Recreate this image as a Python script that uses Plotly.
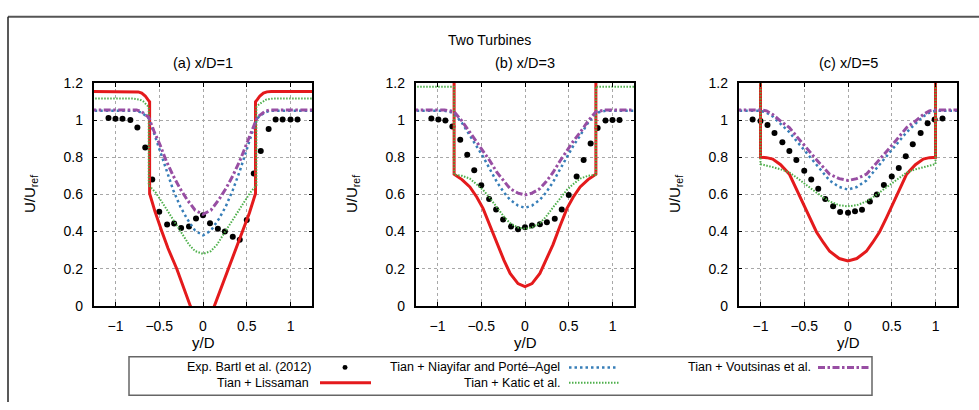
import plotly.graph_objects as go

# ---------------- data ----------------
# Panel (a) x/D=1
exp_a_x = [-1.08, -1.0, -0.92, -0.83, -0.75, -0.66, -0.58, -0.50, -0.41, -0.33, -0.25, -0.16, -0.08, 0.0,
           0.08, 0.17, 0.25, 0.34, 0.42, 0.50, 0.58, 0.66, 0.75, 0.83, 0.91, 1.0, 1.08]
exp_a_y = [1.012, 1.007, 1.007, 1.0, 0.96, 0.853, 0.68, 0.507, 0.438, 0.443, 0.42, 0.427, 0.47, 0.488,
           0.445, 0.415, 0.40, 0.372, 0.356, 0.462, 0.713, 0.834, 0.952, 1.003, 1.003, 1.003, 1.003]
lis_a_x = [-1.3, -0.80, -0.74, -0.70, -0.66, -0.63, -0.61, -0.61, -0.55, -0.47, -0.40, -0.30, -0.145, -0.05, 0.0,
           0.05, 0.13, 0.29, 0.45, 0.53, 0.60, 0.60, 0.62, 0.65, 0.69, 0.73, 0.78, 1.3]
lis_a_y = [1.154, 1.154, 1.152, 1.145, 1.13, 1.11, 1.099, 0.605, 0.51, 0.40, 0.31, 0.20, 0.0, -0.10, -0.13,
           -0.10, 0.0, 0.20, 0.40, 0.50, 0.605, 1.099, 1.11, 1.13, 1.145, 1.152, 1.154, 1.154]
kat_a_x = [-1.3, -0.80, -0.72, -0.68, -0.65, -0.62, -0.62, -0.54, -0.47, -0.39, -0.31, -0.24, -0.16, -0.09, 0.0,
           0.09, 0.16, 0.24, 0.31, 0.39, 0.47, 0.54, 0.61, 0.61, 0.64, 0.68, 0.72, 0.80, 1.3]
kat_a_y = [1.116, 1.116, 1.11, 1.10, 1.085, 1.07, 0.649, 0.61, 0.56, 0.50, 0.44, 0.39, 0.33, 0.295, 0.28,
           0.295, 0.33, 0.39, 0.44, 0.50, 0.56, 0.61, 0.649, 1.07, 1.085, 1.10, 1.11, 1.116, 1.116]
nia_a_x = [-1.3, -0.76, -0.70, -0.62, -0.56, -0.49, -0.42, -0.34, -0.26, -0.18, -0.09, 0.0,
           0.09, 0.18, 0.26, 0.34, 0.42, 0.49, 0.56, 0.62, 0.70, 0.76, 1.3]
nia_a_y = [1.05, 1.05, 1.04, 1.01, 0.93, 0.83, 0.725, 0.623, 0.535, 0.467, 0.405, 0.38,
           0.405, 0.467, 0.535, 0.623, 0.725, 0.83, 0.93, 1.01, 1.04, 1.05, 1.05]
vou_a_x = [-1.3, -0.76, -0.70, -0.62, -0.56, -0.49, -0.42, -0.34, -0.26, -0.18, -0.09, 0.0,
           0.09, 0.18, 0.26, 0.34, 0.42, 0.49, 0.56, 0.62, 0.70, 0.76, 1.3]
vou_a_y = [1.055, 1.055, 1.045, 1.015, 0.94, 0.865, 0.78, 0.70, 0.63, 0.571, 0.515, 0.493,
           0.515, 0.571, 0.63, 0.70, 0.78, 0.865, 0.94, 1.015, 1.045, 1.055, 1.055]

# Panel (b) x/D=3
exp_b_x = [-1.07, -0.99, -0.91, -0.83, -0.74, -0.66, -0.58, -0.50, -0.41, -0.33, -0.25, -0.16, -0.08, 0.0,
           0.08, 0.17, 0.25, 0.34, 0.42, 0.50, 0.59, 0.67, 0.75, 0.83, 0.92, 1.0, 1.08]
exp_b_y = [1.009, 1.003, 0.998, 0.965, 0.894, 0.813, 0.73, 0.649, 0.576, 0.519, 0.465, 0.427, 0.413, 0.424,
           0.433, 0.439, 0.45, 0.469, 0.519, 0.597, 0.697, 0.785, 0.874, 0.958, 0.998, 1.0, 1.0]
lis_b_x = [-1.3, -0.81, -0.81, -0.72, -0.63, -0.55, -0.48, -0.40, -0.32, -0.24, -0.17, -0.08, 0.0,
           0.08, 0.17, 0.24, 0.32, 0.40, 0.48, 0.55, 0.63, 0.72, 0.81, 0.81, 1.3]
lis_b_y = [1.35, 1.35, 0.709, 0.68, 0.64, 0.585, 0.525, 0.43, 0.33, 0.245, 0.175, 0.12, 0.104,
           0.12, 0.175, 0.245, 0.33, 0.43, 0.525, 0.585, 0.64, 0.68, 0.709, 1.35, 1.35]
kat_b_x = [-1.3, -0.81, -0.81, -0.72, -0.63, -0.55, -0.48, -0.40, -0.32, -0.24, -0.17, -0.08, 0.0,
           0.08, 0.17, 0.24, 0.32, 0.40, 0.48, 0.55, 0.63, 0.72, 0.81, 0.81, 1.3]
kat_b_y = [1.18, 1.18, 0.706, 0.70, 0.685, 0.655, 0.625, 0.58, 0.53, 0.48, 0.445, 0.422, 0.415,
           0.422, 0.445, 0.48, 0.53, 0.58, 0.625, 0.655, 0.685, 0.70, 0.706, 1.18, 1.18]
nia_b_x = [-1.3, -0.92, -0.86, -0.81, -0.72, -0.63, -0.55, -0.48, -0.40, -0.32, -0.24, -0.17, -0.08, 0.0,
           0.08, 0.17, 0.24, 0.32, 0.40, 0.48, 0.55, 0.63, 0.72, 0.81, 0.86, 0.92, 1.3]
nia_b_y = [1.05, 1.05, 1.045, 1.035, 0.985, 0.917, 0.86, 0.804, 0.735, 0.666, 0.61, 0.571, 0.54, 0.528,
           0.54, 0.571, 0.61, 0.666, 0.735, 0.804, 0.86, 0.917, 0.985, 1.035, 1.045, 1.05, 1.05]
vou_b_x = [-1.3, -0.92, -0.86, -0.81, -0.72, -0.63, -0.55, -0.48, -0.40, -0.32, -0.24, -0.17, -0.08, 0.0,
           0.08, 0.17, 0.24, 0.32, 0.40, 0.48, 0.55, 0.63, 0.72, 0.81, 0.86, 0.92, 1.3]
vou_b_y = [1.055, 1.055, 1.05, 1.045, 0.995, 0.934, 0.885, 0.839, 0.78, 0.718, 0.668, 0.631, 0.607, 0.597,
           0.607, 0.631, 0.668, 0.718, 0.78, 0.839, 0.885, 0.934, 0.995, 1.045, 1.05, 1.055, 1.055]

# Panel (c) x/D=5
exp_c_x = [-1.09, -1.0, -0.92, -0.84, -0.75, -0.67, -0.59, -0.50, -0.42, -0.34, -0.26, -0.17, -0.09, 0.0,
           0.08, 0.16, 0.25, 0.33, 0.41, 0.50, 0.58, 0.66, 0.74, 0.83, 0.91, 0.99, 1.08]
exp_c_y = [1.003, 0.995, 0.974, 0.931, 0.881, 0.834, 0.785, 0.727, 0.68, 0.631, 0.576, 0.536, 0.505, 0.502,
           0.509, 0.517, 0.562, 0.599, 0.651, 0.696, 0.742, 0.806, 0.87, 0.931, 0.983, 1.003, 1.009]
lis_c_x = [-1.3, -1.0, -1.0, -0.93, -0.86, -0.77, -0.67, -0.60, -0.52, -0.44, -0.36, -0.28, -0.21, -0.10, 0.0,
           0.10, 0.21, 0.28, 0.36, 0.44, 0.52, 0.60, 0.67, 0.77, 0.86, 0.93, 1.0, 1.0, 1.3]
lis_c_y = [1.35, 1.35, 0.80, 0.798, 0.79, 0.76, 0.709, 0.64, 0.554, 0.475, 0.398, 0.34, 0.294, 0.255, 0.242,
           0.255, 0.294, 0.34, 0.398, 0.475, 0.554, 0.64, 0.709, 0.76, 0.79, 0.798, 0.80, 1.35, 1.35]
kat_c_x = [-1.3, -1.0, -1.0, -0.93, -0.86, -0.77, -0.67, -0.60, -0.52, -0.44, -0.36, -0.28, -0.21, -0.10, 0.0,
           0.10, 0.21, 0.28, 0.36, 0.44, 0.52, 0.60, 0.67, 0.77, 0.86, 0.93, 1.0, 1.0, 1.3]
kat_c_y = [1.3, 1.3, 0.763, 0.757, 0.747, 0.735, 0.718, 0.695, 0.665, 0.638, 0.61, 0.583, 0.562, 0.542, 0.536,
           0.542, 0.562, 0.583, 0.61, 0.638, 0.665, 0.695, 0.718, 0.735, 0.747, 0.757, 0.763, 1.3, 1.3]
nia_c_x = [-1.3, -1.0, -0.93, -0.86, -0.77, -0.67, -0.60, -0.52, -0.44, -0.36, -0.28, -0.21, -0.10, 0.0,
           0.10, 0.21, 0.28, 0.36, 0.44, 0.52, 0.60, 0.67, 0.77, 0.86, 0.93, 1.0, 1.3]
nia_c_y = [1.05, 1.05, 1.04, 1.02, 0.98, 0.935, 0.895, 0.851, 0.806, 0.761, 0.715, 0.675, 0.64, 0.626,
           0.64, 0.675, 0.715, 0.761, 0.806, 0.851, 0.895, 0.935, 0.98, 1.02, 1.04, 1.05, 1.05]
vou_c_x = [-1.3, -1.0, -0.93, -0.86, -0.77, -0.67, -0.60, -0.52, -0.44, -0.36, -0.28, -0.21, -0.10, 0.0,
           0.10, 0.21, 0.28, 0.36, 0.44, 0.52, 0.60, 0.67, 0.77, 0.86, 0.93, 1.0, 1.3]
vou_c_y = [1.055, 1.055, 1.05, 1.03, 0.995, 0.96, 0.92, 0.874, 0.83, 0.787, 0.745, 0.709, 0.685, 0.675,
           0.685, 0.709, 0.745, 0.787, 0.83, 0.874, 0.92, 0.96, 0.995, 1.03, 1.05, 1.055, 1.055]

panel_titles = ["(a) x/D=1", "(b) x/D=3", "(c) x/D=5"]
series_names = ["Exp. Bartl et al. (2012)", "Tian + Lissaman", "Tian + Niayifar and Porté\u2013Agel",
                "Tian + Katic et al.", "Tian + Voutsinas et al."]
x_ticks = [-1, -0.5, 0, 0.5, 1]
y_ticks = [0, 0.2, 0.4, 0.6, 0.8, 1.0, 1.2]
main_title = "Two Turbines"

# ---------------- styling ----------------
W, H = 979, 410
FONT = "Liberation Sans, Arial, Helvetica, sans-serif"
RED, BLUE, GREEN, PURPLE = "#e41a1c", "#377eb8", "#4daf4a", "#984ea3"
styles = [
    dict(color=RED, width=3, dash="solid"),
    dict(color=BLUE, width=2.5, dash="2.5px,3px"),
    dict(color=GREEN, width=2, dash="1.5px,1.5px"),
    dict(color=PURPLE, width=3, dash="7px,2.5px,2.5px,2.5px"),
]


def px(v):
    return v / W


def py(v):
    return 1 - v / H


panel_left = [93.6, 415.6, 738.6]
panel_w = 218.8
plot_top, plot_bot = 78, 310

panels = [
    (exp_a_x, exp_a_y, [(lis_a_x, lis_a_y), (nia_a_x, nia_a_y), (kat_a_x, kat_a_y), (vou_a_x, vou_a_y)]),
    (exp_b_x, exp_b_y, [(lis_b_x, lis_b_y), (nia_b_x, nia_b_y), (kat_b_x, kat_b_y), (vou_b_x, vou_b_y)]),
    (exp_c_x, exp_c_y, [(lis_c_x, lis_c_y), (nia_c_x, nia_c_y), (kat_c_x, kat_c_y), (vou_c_x, vou_c_y)]),
]


def text_ann(text, x, y, size, xanchor="center", angle=0, pad=1):
    return dict(text=text, x=px(x), y=py(y), xref="paper", yref="paper", xanchor=xanchor,
                yanchor="middle", textangle=angle, showarrow=False, borderpad=pad,
                font=dict(family=FONT, size=size, color="black"))


fig = go.Figure()
annotations = []
layout_axes = {}
for i, (ex, ey, lines) in enumerate(panels):
    sfx = "" if i == 0 else str(i + 1)
    xa, ya = "x" + sfx, "y" + sfx
    fig.add_trace(go.Scatter(x=ex, y=ey, mode="markers", xaxis=xa, yaxis=ya,
                             marker=dict(color="black", size=6), name=series_names[0], showlegend=False))
    for (lx, ly), st, nm in zip(lines, styles, series_names[1:]):
        fig.add_trace(go.Scatter(x=lx, y=ly, mode="lines", xaxis=xa, yaxis=ya, line=st,
                                 name=nm, showlegend=False))
    axcommon = dict(showgrid=True, gridcolor="#a8a8a8", griddash="dot", gridwidth=1,
                    showline=True, linecolor="black", linewidth=1.5, mirror="ticks",
                    ticks="inside", ticklen=4, tickcolor="black", zeroline=False,
                    tickfont=dict(family=FONT, size=14, color="black"))
    layout_axes["xaxis" + sfx] = dict(axcommon, domain=[px(panel_left[i]), px(panel_left[i] + panel_w)],
                                      range=[-1.25, 1.25], tickvals=x_ticks, anchor=ya,
                                      ticklabelstandoff=7)
    layout_axes["yaxis" + sfx] = dict(axcommon, domain=[py(plot_bot), py(plot_top)],
                                      range=[0, 1.2], tickvals=y_ticks, anchor=xa,
                                      ticklabelstandoff=6)
    cx = panel_left[i] + panel_w / 2
    annotations.append(text_ann(panel_titles[i], cx, 57, 14.5))
    annotations.append(text_ann("y/D", cx, 348, 15))
    annotations.append(text_ann("U/U<sub>ref</sub>", panel_left[i] - 63, 194, 15, angle=-90))

annotations.append(text_ann(main_title, 490, 33, 14))

# frame and legend (manual, gnuplot-style: text then sample)
shapes = []
shapes.append(dict(type="line", xref="paper", yref="paper", x0=px(8), x1=px(979), y0=py(9), y1=py(9),
                   line=dict(color="#555555", width=2)))
shapes.append(dict(type="line", xref="paper", yref="paper", x0=px(8), x1=px(8), y0=py(9), y1=py(410),
                   line=dict(color="#222222", width=1.5)))
shapes.append(dict(type="rect", xref="paper", yref="paper", x0=px(129), x1=px(872), y0=py(363), y1=py(403),
                   line=dict(color="#666666", width=1.5), fillcolor="rgba(0,0,0,0)"))
leg_entries = [
    (series_names[0], 312, 374, None),
    (series_names[2], 561, 374, (569, 617, styles[1])),
    (series_names[4], 812, 374, (818, 869, styles[3])),
    (series_names[1], 310, 390, (320, 371, styles[0])),
    (series_names[3], 561, 390, (569, 619, styles[2])),
]
for txt, xr, yc, samp in leg_entries:
    annotations.append(text_ann(txt, xr, yc, 12.5, xanchor="right", pad=0))
    if samp is not None:
        x0, x1, st = samp
        shapes.append(dict(type="line", xref="paper", yref="paper", x0=px(x0), x1=px(x1),
                           y0=py(yc), y1=py(yc), line=st))
shapes.append(dict(type="circle", xref="paper", yref="paper", x0=px(342.5), x1=px(347.5),
                   y0=py(376.5), y1=py(371.5), fillcolor="black", line=dict(color="black", width=0)))

fig.update_layout(width=W, height=H, margin=dict(l=0, r=0, t=0, b=0),
                  paper_bgcolor="white", plot_bgcolor="white", showlegend=False,
                  annotations=annotations, shapes=shapes, font=dict(family=FONT), **layout_axes)
fig.write_html("out.html")
